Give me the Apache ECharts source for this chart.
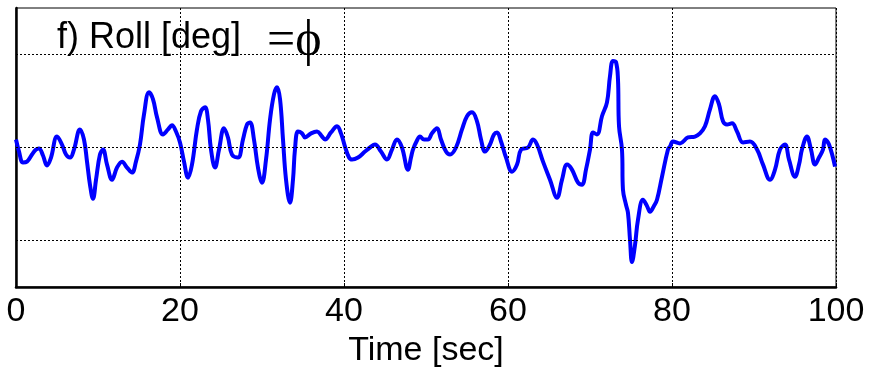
<!DOCTYPE html>
<html>
<head>
<meta charset="utf-8">
<script src="https://cdn.jsdelivr.net/npm/echarts@6/dist/echarts.min.js"></script>
<style>html,body{margin:0;padding:0;background:#fff;}#c{width:877px;height:367px;}</style>
</head>
<body>
<div id="c"></div>
<script>
// Time [sec]
var timeSec = [0,0.37,0.85,1.34,1.95,2.44,2.80,3.29,3.78,4.27,5.00,5.61,6.10,6.59,7.07,7.80,8.29,8.66,9.02,9.39,9.76,10.24,10.61,11.10,11.71,12.32,12.93,13.54,14.15,14.63,15.12,15.61,16.22,16.71,17.20,17.93,18.54,19.02,19.51,20.00,20.49,20.98,21.46,22.07,22.56,23.05,23.41,23.78,24.27,24.76,25.37,25.85,26.34,27.07,27.68,28.17,28.54,29.02,29.51,30.00,30.49,30.98,31.46,31.83,32.20,32.56,32.93,33.41,33.78,34.02,34.39,34.88,35.24,35.98,36.71,37.32,37.68,38.41,39.15,39.63,40.12,40.61,40.98,41.71,42.56,43.17,43.78,44.51,45.24,45.85,46.46,47.07,47.80,48.17,48.41,48.90,49.27,49.76,50.24,50.73,51.34,51.83,52.44,52.93,53.66,54.39,55.00,55.61,56.22,56.71,57.20,57.80,58.29,58.66,59.15,59.76,60.49,61.10,61.59,62.44,63.05,63.54,64.27,65.12,65.98,66.59,67.20,67.80,68.54,69.02,69.51,70.00,70.37,70.85,71.46,72.07,72.44,72.80,73.17,73.41,73.54,73.90,74.02,74.39,74.63,74.88,75.12,75.49,75.85,76.46,76.95,77.32,77.80,78.17,78.78,79.51,79.76,80.12,80.98,81.95,82.80,83.41,84.02,84.63,85.24,85.73,86.22,86.71,87.32,87.93,88.66,89.51,90.37,91.10,91.95,92.56,93.17,93.78,94.27,95.00,95.49,95.85,96.46,96.95,97.44,97.93,98.41,98.66,99.15,99.88];
// Roll [deg]
var rollDeg = [0.43,-0.22,-0.81,-0.76,-0.38,-0.11,-0.05,-0.43,-0.97,-0.54,0.59,0.16,-0.38,-0.54,-0.11,0.97,0.43,-0.76,-2.00,-2.76,-1.73,-0.38,-0.11,-0.92,-1.73,-1.08,-0.76,-1.08,-1.35,-0.76,0.16,1.78,2.97,2.59,1.62,0.70,0.97,1.19,0.86,0.27,-0.76,-1.62,-0.92,0.97,1.95,2.16,1.51,-0.11,-1.08,-0.11,1.03,0.54,-0.38,-0.54,0.43,1.24,1.35,0.43,-1.08,-1.89,-0.65,1.51,2.86,3.24,2.59,0.43,-1.73,-2.97,-1.73,-0.11,0.86,0.76,0.54,0.76,0.86,0.59,0.43,0.81,1.14,0.76,0.05,-0.54,-0.65,-0.54,-0.22,0,0.16,-0.22,-0.65,-0.11,0.43,0,-1.19,-0.54,-0.11,0.38,0.59,0.43,0.43,0.76,1.03,0.43,-0.22,-0.38,0,0.97,1.68,1.89,1.41,0.43,-0.22,0.16,0.70,0.81,0.32,-0.54,-1.30,-0.92,-0.11,0,0.43,0.16,-0.76,-1.73,-2.70,-1.73,-0.92,-1.19,-1.89,-2.00,-1.19,-0.11,0.81,0.70,1.68,2.43,3.84,4.65,4.59,3.68,1.14,-0.11,-2.27,-3.08,-3.51,-4.97,-6.16,-5.24,-3.89,-2.81,-3.14,-3.46,-3.14,-2.81,-1.57,-0.11,0.05,0.32,0.22,0.54,0.59,0.76,1.14,2.05,2.76,2.32,1.41,1.24,1.30,0.86,0.27,0.32,-0.11,-0.92,-1.73,-1.19,-0.11,0.16,-0.65,-1.57,-0.92,-0.11,0.59,-0.11,-0.92,-0.54,-0.11,0.43,0.16,-1.03];
var yGridValues = [-5, 0, 5];
var xTicks = [0, 20, 40, 60, 80, 100];

var seriesData = timeSec.map(function (t, i) { return [t, rollDeg[i]]; });

var chart = echarts.init(document.getElementById('c'), null, {renderer: 'canvas'});
var font = 'Liberation Sans, Arial, sans-serif';
chart.setOption({
  animation: false,
  backgroundColor: '#fff',
  grid: {left: 16, right: 41, top: 8, bottom: 80, containLabel: false, outerBoundsMode: 'none',
         show: true, borderColor: '#000', borderWidth: 1, backgroundColor: 'transparent'},
  xAxis: [{
    type: 'value', min: 0, max: 100, interval: 20,
    axisLine: {show: true, onZero: false, lineStyle: {color: '#000', width: 2.5}},
    axisTick: {show: true, inside: true, length: 4, lineStyle: {color: '#000'}},
    axisLabel: {color: '#000', fontSize: 34, fontFamily: font, margin: 8,
                customValues: xTicks},
    splitLine: {show: true, lineStyle: {color: '#000', type: [2, 2], width: 1}},
    name: 'Time [sec]', nameLocation: 'middle', nameGap: 44,
    nameTextStyle: {color: '#000', fontSize: 34, fontFamily: font}
  }],
  yAxis: [{
    type: 'value', min: -7.5, max: 7.5,
    axisLine: {show: true, lineStyle: {color: '#000', width: 2.5}},
    axisTick: {show: false}, axisLabel: {show: false},
    splitLine: {show: false}
  }],
  graphic: [
    {type: 'text', left: 57, top: 20, z: 10, style: {text: 'f) Roll [deg]', font: '36px ' + font, fill: '#000'}},
    {type: 'text', left: 267, top: 17, z: 10, style: {text: '=\u03D5', font: '50px Liberation Serif, Times New Roman, serif', fill: '#000'}}
  ],
  series: [
    {
      type: 'line', data: [], z: 1, silent: true,
      markLine: {
        silent: true, symbol: 'none', label: {show: false},
        lineStyle: {color: '#000', type: [2, 2], width: 1},
        data: yGridValues.map(function (v) { return {yAxis: v}; })
      }
    },
    {
      type: 'line', data: seriesData, z: 3, showSymbol: false, smooth: 0.4,
      lineStyle: {color: '#0000ff', width: 4}
    }
  ]
});
</script>
</body>
</html>
